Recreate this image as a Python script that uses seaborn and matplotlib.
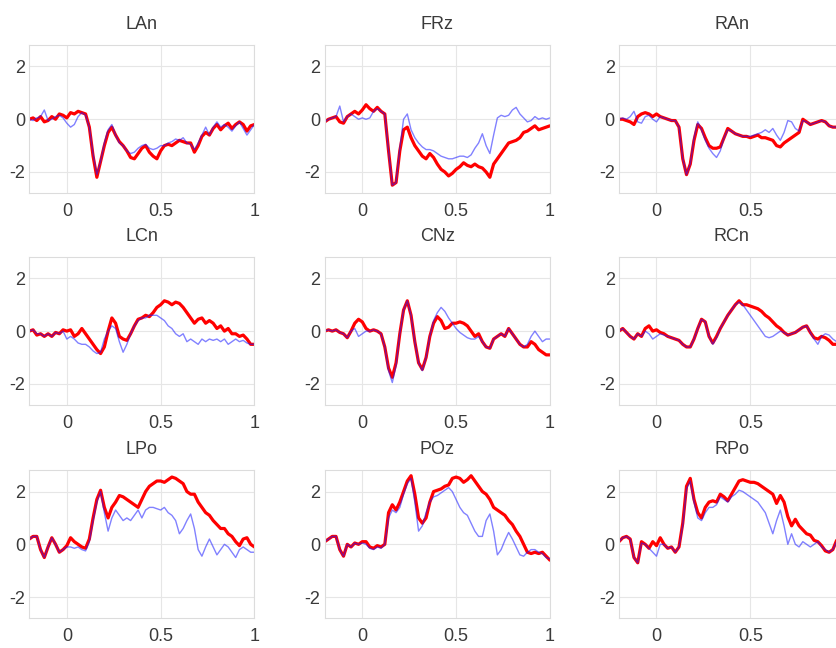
import numpy as np
import matplotlib
matplotlib.use("Agg")
import matplotlib.pyplot as plt
import seaborn as sns

sns.set_theme(style="whitegrid", rc={"grid.color": "#e6e6e6", "axes.edgecolor": "#dcdcdc",
                                     "grid.linewidth": 0.8, "axes.linewidth": 0.8})
plt.rcParams['font.family'] = ['Liberation Sans', 'DejaVu Sans']

# time axis (s), one sample every 20 ms from -0.2 to 1.0
t = np.round(np.arange(-10, 51) * 0.02, 2)

channels = ['LAn', 'FRz', 'RAn', 'LCn', 'CNz', 'RCn', 'LPo', 'POz', 'RPo']

# red = condition A (thick), blue = condition B (thin)
lan_red = [0.0, 0.05, -0.05, 0.1, -0.1, -0.05, 0.1, 0.0, 0.2, 0.15,
           0.05, 0.25, 0.2, 0.3, 0.25, 0.2, -0.3, -1.4, -2.2, -1.6,
           -1.0, -0.5, -0.3, -0.6, -0.85, -1.0, -1.2, -1.45, -1.5, -1.3,
           -1.1, -1.0, -1.25, -1.4, -1.5, -1.2, -1.0, -0.95, -1.0, -0.9,
           -0.8, -0.85, -0.9, -0.9, -1.25, -1.0, -0.65, -0.5, -0.6, -0.35,
           -0.2, -0.4, -0.25, -0.15, -0.35, -0.2, -0.1, -0.2, -0.45, -0.25,
           -0.2]
lan_blue = [0.0, -0.05, 0.05, 0.1, 0.35, -0.05, 0.0, 0.1, 0.15, 0.05,
            -0.15, -0.3, -0.2, 0.1, 0.25, 0.15, -0.3, -1.3, -2.1, -1.6,
            -0.9, -0.4, -0.2, -0.6, -0.9, -1.0, -1.2, -1.3, -1.25, -1.1,
            -1.0, -0.95, -1.1, -1.15, -1.1, -1.0, -1.0, -0.9, -0.85, -0.75,
            -0.8, -0.7, -0.9, -0.95, -1.15, -0.9, -0.6, -0.3, -0.6, -0.3,
            -0.1, -0.3, -0.2, -0.3, -0.45, -0.25, -0.1, -0.35, -0.6, -0.4,
            -0.2]

frz_red = [-0.1, 0.0, 0.05, 0.1, -0.1, -0.15, 0.1, 0.2, 0.3, 0.2,
           0.35, 0.55, 0.4, 0.3, 0.45, 0.3, 0.2, -1.2, -2.5, -2.4,
           -1.2, -0.4, -0.3, -0.7, -1.0, -1.2, -1.4, -1.5, -1.3, -1.45,
           -1.7, -1.9, -2.0, -2.15, -2.05, -1.9, -1.8, -1.65, -1.75, -1.8,
           -1.7, -1.8, -1.85, -2.0, -2.2, -1.7, -1.5, -1.3, -1.1, -0.9,
           -0.85, -0.8, -0.7, -0.5, -0.45, -0.35, -0.25, -0.4, -0.35, -0.3,
           -0.25]
frz_blue = [-0.1, 0.0, 0.05, 0.1, 0.5, -0.1, 0.1, 0.2, 0.1, 0.0,
            0.05, 0.0, 0.05, 0.3, 0.4, 0.3, 0.2, -1.2, -2.5, -2.4,
            -1.1, 0.0, 0.2, -0.4, -0.7, -0.9, -1.05, -1.15, -1.15, -1.2,
            -1.3, -1.4, -1.45, -1.5, -1.5, -1.45, -1.4, -1.4, -1.45, -1.35,
            -1.1, -0.9, -0.55, -1.0, -1.3, -0.6, 0.05, 0.15, 0.1, 0.15,
            0.35, 0.45, 0.2, 0.05, -0.1, -0.05, 0.1, 0.0, 0.05, 0.0,
            0.05]

ran_red = [0.0, 0.0, -0.05, -0.1, -0.2, 0.1, 0.2, 0.25, 0.2, 0.1,
           0.2, 0.1, 0.05, 0.0, -0.05, -0.05, -0.3, -1.5, -2.1, -1.7,
           -0.8, -0.2, -0.35, -0.7, -1.0, -1.1, -1.1, -1.05, -0.7, -0.35,
           -0.45, -0.55, -0.6, -0.65, -0.65, -0.7, -0.65, -0.6, -0.7, -0.7,
           -0.75, -0.8, -1.0, -1.05, -0.9, -0.8, -0.7, -0.6, -0.5, 0.0,
           -0.1, -0.2, -0.15, -0.1, -0.05, -0.1, -0.25, -0.3, -0.3, -0.3,
           -0.3]
ran_blue = [0.0, 0.05, 0.0, 0.1, 0.3, -0.1, -0.15, 0.1, 0.15, 0.0,
            -0.1, 0.1, 0.05, 0.0, -0.05, -0.05, -0.3, -1.5, -2.1, -1.7,
            -0.7, -0.1, -0.4, -0.8, -1.1, -1.3, -1.45, -1.2, -0.7, -0.4,
            -0.45, -0.55, -0.6, -0.65, -0.65, -0.65, -0.6, -0.55, -0.5, -0.4,
            -0.5, -0.35, -0.6, -0.8, -0.5, -0.05, -0.1, -0.35, -0.45, -0.05,
            -0.1, -0.2, -0.15, -0.1, -0.05, -0.1, -0.25, -0.3, -0.3, -0.3,
            -0.3]

lcn_red = [0.0, 0.05, -0.15, -0.1, -0.2, -0.1, -0.2, -0.05, -0.1, 0.05,
           0.0, 0.05, -0.2, -0.1, 0.1, -0.1, -0.3, -0.5, -0.7, -0.85,
           -0.6, 0.0, 0.5, 0.3, -0.2, -0.3, -0.35, -0.1, 0.2, 0.45,
           0.5, 0.6, 0.55, 0.7, 0.9, 1.0, 1.15, 1.1, 1.0, 1.1,
           1.05, 0.9, 0.7, 0.5, 0.3, 0.45, 0.5, 0.3, 0.4, 0.3,
           0.1, 0.2, 0.0, 0.1, -0.1, -0.1, -0.2, -0.15, -0.3, -0.5,
           -0.5]
lcn_blue = [0.0, 0.05, -0.1, -0.1, -0.2, -0.1, -0.2, -0.05, -0.1, 0.0,
            -0.3, -0.2, -0.3, -0.45, -0.5, -0.5, -0.6, -0.75, -0.85, -0.8,
            -0.3, 0.0, 0.2, 0.1, -0.4, -0.8, -0.5, -0.1, 0.2, 0.4,
            0.5, 0.5, 0.6, 0.6, 0.6, 0.5, 0.4, 0.2, 0.1, -0.1,
            -0.2, -0.1, -0.4, -0.3, -0.4, -0.5, -0.3, -0.4, -0.3, -0.35,
            -0.3, -0.4, -0.3, -0.5, -0.4, -0.3, -0.4, -0.35, -0.45, -0.5,
            -0.5]

cnz_red = [0.0, 0.05, 0.0, 0.05, -0.05, -0.1, -0.25, 0.0, 0.3, 0.45,
           0.35, 0.1, 0.0, 0.05, 0.0, -0.1, -0.6, -1.4, -1.75, -1.2,
           -0.1, 0.8, 1.15, 0.6, -0.4, -1.2, -1.45, -1.0, -0.2, 0.3,
           0.55, 0.4, 0.1, 0.15, 0.3, 0.3, 0.35, 0.3, 0.2, 0.0,
           -0.2, -0.1, -0.4, -0.6, -0.65, -0.3, -0.2, -0.1, -0.2, 0.1,
           -0.1, -0.3, -0.5, -0.6, -0.6, -0.4, -0.5, -0.7, -0.8, -0.9,
           -0.9]
cnz_blue = [0.0, 0.05, 0.0, 0.05, -0.05, -0.1, -0.25, 0.0, 0.1, -0.2,
            -0.1, 0.0, 0.0, 0.05, 0.0, -0.1, -0.6, -1.5, -1.95, -1.3,
            -0.1, 0.8, 1.15, 0.6, -0.4, -1.2, -1.5, -1.0, -0.2, 0.4,
            0.7, 0.9, 0.75, 0.5, 0.3, 0.1, -0.05, -0.15, -0.25, -0.3,
            -0.3, -0.2, -0.4, -0.6, -0.65, -0.3, -0.2, -0.1, -0.2, 0.1,
            -0.1, -0.3, -0.5, -0.6, -0.5, -0.2, 0.0, -0.2, -0.4, -0.3,
            -0.3]

rcn_red = [0.0, 0.1, -0.05, -0.2, -0.3, -0.1, -0.2, 0.1, 0.2, 0.0,
           0.05, -0.05, -0.1, -0.2, -0.25, -0.3, -0.35, -0.5, -0.6, -0.6,
           -0.3, 0.1, 0.45, 0.35, -0.2, -0.45, -0.2, 0.1, 0.35, 0.6,
           0.8, 1.0, 1.15, 1.0, 1.0, 0.95, 0.9, 0.85, 0.75, 0.6,
           0.5, 0.35, 0.2, 0.1, -0.05, -0.15, -0.1, -0.05, 0.05, 0.15,
           0.2, -0.05, -0.25, -0.3, -0.2, -0.25, -0.35, -0.5, -0.5, -0.45,
           -0.5]
rcn_blue = [0.0, 0.1, -0.05, -0.2, -0.3, -0.1, -0.2, 0.0, -0.1, -0.3,
            -0.2, -0.1, -0.15, -0.2, -0.25, -0.3, -0.35, -0.5, -0.6, -0.6,
            -0.3, 0.1, 0.45, 0.35, -0.2, -0.5, -0.25, 0.1, 0.35, 0.6,
            0.8, 1.0, 1.1, 1.0, 0.8, 0.6, 0.4, 0.2, 0.0, -0.2,
            -0.25, -0.2, -0.1, 0.0, -0.05, -0.15, -0.1, -0.05, 0.05, 0.15,
            0.2, -0.05, -0.3, -0.5, -0.2, -0.1, -0.15, -0.3, -0.4, -0.4,
            -0.45]

lpo_red = [0.2, 0.3, 0.3, -0.2, -0.5, -0.1, 0.25, 0.0, -0.3, -0.2,
           -0.05, 0.25, 0.1, 0.0, -0.1, -0.15, 0.2, 1.0, 1.7, 2.05,
           1.4, 1.0, 1.4, 1.6, 1.85, 1.8, 1.7, 1.6, 1.5, 1.4,
           1.7, 2.0, 2.2, 2.3, 2.4, 2.4, 2.35, 2.45, 2.55, 2.5,
           2.4, 2.3, 2.0, 1.9, 1.9, 1.6, 1.4, 1.2, 1.1, 0.9,
           0.75, 0.6, 0.6, 0.4, 0.3, 0.1, -0.05, 0.2, 0.25, 0.0,
           -0.1]
lpo_blue = [0.2, 0.3, 0.3, -0.2, -0.5, -0.1, 0.25, 0.0, -0.3, -0.2,
            -0.1, -0.1, -0.15, -0.1, -0.2, -0.25, 0.1, 0.9, 1.6, 2.0,
            1.2, 0.5, 1.0, 1.3, 1.1, 0.9, 1.0, 0.9, 1.1, 1.3,
            1.0, 1.3, 1.4, 1.4, 1.35, 1.3, 1.4, 1.2, 1.1, 0.9,
            0.4, 0.6, 0.9, 1.15, 0.6, -0.2, -0.45, -0.1, 0.2, -0.1,
            -0.4, -0.2, 0.0, -0.1, -0.3, -0.5, -0.2, -0.1, -0.2, -0.3,
            -0.3]

poz_red = [0.1, 0.2, 0.3, 0.3, -0.2, -0.45, 0.0, -0.1, 0.05, 0.0,
           0.1, 0.1, -0.1, -0.15, -0.05, -0.1, 0.0, 1.2, 1.5, 1.3,
           1.6, 2.0, 2.4, 2.6, 1.9, 1.0, 0.8, 1.0, 1.6, 2.0,
           2.05, 2.1, 2.2, 2.25, 2.5, 2.55, 2.5, 2.35, 2.45, 2.6,
           2.4, 2.2, 2.0, 1.9, 1.7, 1.4, 1.3, 1.2, 1.1, 0.9,
           0.75, 0.5, 0.3, 0.0, -0.3, -0.35, -0.3, -0.35, -0.3, -0.45,
           -0.6]
poz_blue = [0.1, 0.2, 0.3, 0.3, -0.2, -0.45, 0.0, -0.1, 0.05, 0.0,
            0.05, 0.0, -0.15, -0.2, -0.1, -0.15, 0.0, 1.0, 1.3, 1.2,
            1.4, 1.9, 2.3, 2.5, 1.6, 0.5, 0.7, 1.2, 1.6, 1.8,
            1.85, 1.95, 2.05, 2.15, 2.0, 1.7, 1.4, 1.2, 1.1, 0.8,
            0.5, 0.3, 0.3, 0.9, 1.15, 0.5, -0.4, -0.2, 0.15, 0.45,
            0.2, -0.1, -0.4, -0.45, -0.3, -0.2, -0.2, -0.3, -0.35, -0.5,
            -0.55]

rpo_red = [0.1, 0.25, 0.3, 0.2, -0.5, -0.7, 0.1, 0.0, -0.15, 0.1,
           -0.05, 0.25, 0.0, -0.15, -0.1, -0.3, -0.1, 0.8, 2.2, 2.5,
           1.7, 1.2, 1.0, 1.4, 1.6, 1.65, 1.6, 1.9, 1.8, 1.65,
           1.9, 2.15, 2.4, 2.45, 2.4, 2.35, 2.35, 2.3, 2.2, 2.1,
           2.0, 1.9, 1.55, 1.85, 1.6, 1.05, 0.7, 0.95, 0.7, 0.55,
           0.4, 0.35, 0.15, 0.1, -0.05, -0.25, -0.3, -0.2, 0.15, -0.1,
           -0.2]
rpo_blue = [0.1, 0.25, 0.3, 0.2, -0.5, -0.7, 0.05, 0.0, -0.15, -0.3,
            -0.45, 0.0, 0.0, -0.15, -0.1, -0.3, -0.1, 0.7, 2.1, 2.4,
            1.6, 1.0, 0.9, 1.2, 1.4, 1.4, 1.5, 1.8, 1.7, 1.6,
            1.8, 1.9, 2.05, 2.0, 1.9, 1.8, 1.7, 1.6, 1.4, 1.2,
            0.8, 0.4, 0.9, 1.3, 0.7, 0.0, 0.4, 0.0, -0.1, 0.1,
            0.0, -0.1, 0.0, 0.1, -0.1, -0.2, -0.3, -0.2, 0.1, -0.1,
            -0.2]

red = [lan_red, frz_red, ran_red, lcn_red, cnz_red, rcn_red, lpo_red, poz_red, rpo_red]
blue = [lan_blue, frz_blue, ran_blue, lcn_blue, cnz_blue, rcn_blue, lpo_blue, poz_blue, rpo_blue]

fig = plt.figure(figsize=(8.37, 6.48), dpi=100)
lefts = [0.035, 0.388, 0.7395]
bottoms = [0.702, 0.375, 0.046]

for i, ch in enumerate(channels):
    ax = fig.add_axes([lefts[i % 3], bottoms[i // 3], 0.269, 0.228])
    sns.lineplot(x=t, y=red[i], ax=ax, color='#ff0000', lw=2.3)
    sns.lineplot(x=t, y=blue[i], ax=ax, color='#1a1aff', lw=1.0, alpha=0.55)
    ax.set_xlim(-0.2, 1.0)
    ax.set_ylim(-2.8, 2.8)
    ax.set_xticks([0, 0.5, 1])
    # right-hand column runs past the figure edge, its "1" is never seen
    if i % 3 == 2:
        ax.set_xticklabels(['0', '0.5', ''])
    else:
        ax.set_xticklabels(['0', '0.5', '1'])
    ax.set_yticks([-2, 0, 2])
    ax.set_yticklabels(['-2', '0', '2'])
    ax.tick_params(axis='x', length=0, pad=7, labelsize=13, labelcolor='#3a3a3a')
    ax.tick_params(axis='y', length=0, pad=3, labelsize=13, labelcolor='#3a3a3a')
    ax.set_xlabel('')
    ax.set_ylabel('')
    ax.set_title(ch, fontsize=13, color='#3a3a3a', pad=12)

fig.savefig('out.png', dpi=100)
